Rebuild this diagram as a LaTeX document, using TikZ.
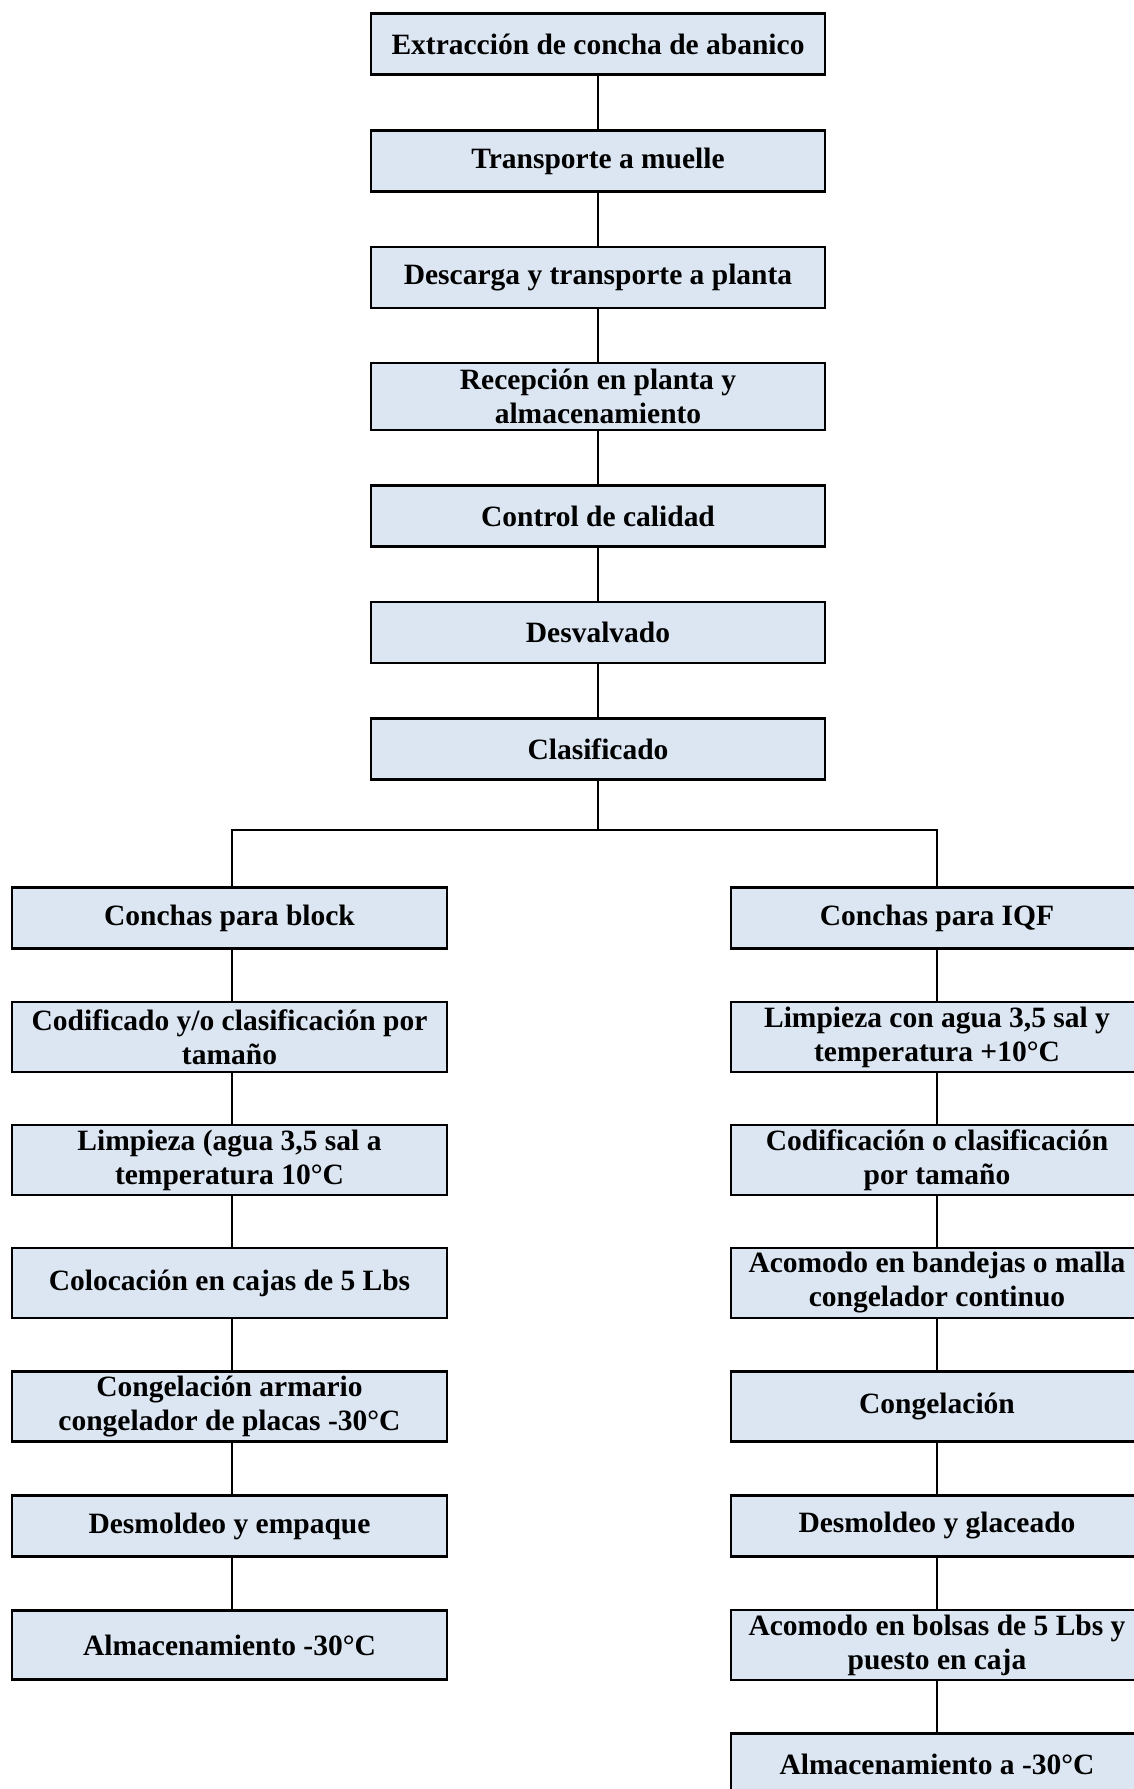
\documentclass[tikz,border=0pt]{standalone}
\usepackage{fontspec}
\setmainfont{Liberation Serif}
\definecolor{boxfill}{HTML}{DCE6F2}
\begin{document}
\begin{tikzpicture}[x=1pt,y=-1pt,
  box/.style={draw=black, line width=2.8pt, fill=boxfill, align=center,
    font=\fontsize{29.5}{34}\selectfont\bfseries, inner sep=0pt, anchor=center},
  topbox/.style={box, minimum width=454pt, minimum height=61pt},
  sidebox/.style={box, minimum width=435pt, minimum height=61pt},
  rightbox/.style={box, minimum width=412pt, minimum height=61pt},
  conn/.style={draw=black, line width=2.4pt}]
\useasboundingbox (0,0) rectangle (1133,1789);
\fill[white] (0,0) rectangle (1133,1789);
% main column
\node[topbox] (t1) at (598,44) {Extracción de concha de abanico};
\node[topbox] (t2) at (598,161) {Transporte a muelle};
\node[topbox] (t3) at (598,277.5) {Descarga y transporte a planta};
\node[topbox, minimum height=67pt] (t4) at (598,396.5) {Recepción en planta y\\almacenamiento};
\node[topbox] (t5) at (598,516) {Control de calidad};
\node[topbox] (t6) at (598,632.5) {Desvalvado};
\node[topbox] (t7) at (598,749) {Clasificado};
% left column
\node[sidebox] (l1) at (229.5,918) {Conchas para block};
\node[sidebox, minimum height=70pt] (l2) at (229.5,1037) {Codificado y/o clasificación por\\tamaño};
\node[sidebox, minimum height=70pt] (l3) at (229.5,1160) {Limpieza (agua 3,5 sal a\\temperatura 10°C};
\node[sidebox, minimum height=70pt] (l4) at (229.5,1283) {Colocación en cajas de 5 Lbs};
\node[sidebox, minimum height=70pt] (l5) at (229.5,1406.5) {Congelación armario\\congelador de placas -30°C};
\node[sidebox] (l6) at (229.5,1526) {Desmoldeo y empaque};
\node[sidebox, minimum height=69pt] (l7) at (229.5,1645) {Almacenamiento -30°C};
% right column
\node[rightbox] (r1) at (937,918) {Conchas para IQF};
\node[rightbox, minimum height=70pt] (r2) at (937,1037) {Limpieza con agua 3,5 sal y\\temperatura +10°C};
\node[rightbox, minimum height=70pt] (r3) at (937,1160) {Codificación o clasificación\\por tamaño};
\node[rightbox, minimum height=70pt] (r4) at (937,1283) {Acomodo en bandejas o malla\\congelador continuo};
\node[rightbox, minimum height=70pt] (r5) at (937,1406.5) {Congelación};
\node[rightbox] (r6) at (937,1526) {Desmoldeo y glaceado};
\node[rightbox, minimum height=70pt] (r7) at (937,1645) {Acomodo en bolsas de 5 Lbs y\\puesto en caja};
\node[rightbox] (r8) at (937,1764) {Almacenamiento a -30°C};
% connectors
\draw[conn] (t1) -- (t2);
\draw[conn] (t2) -- (t3);
\draw[conn] (t3) -- (t4);
\draw[conn] (t4) -- (t5);
\draw[conn] (t5) -- (t6);
\draw[conn] (t6) -- (t7);
\coordinate (br) at (598,830);
\draw[conn] (t7) -- (br);
\draw[conn] ([xshift=2.5pt]l1.north) |- (br) -| (r1.north);
\draw[conn] ([xshift=2.5pt]l1.south) -- ([xshift=2.5pt]l2.north);
\draw[conn] ([xshift=2.5pt]l2.south) -- ([xshift=2.5pt]l3.north);
\draw[conn] ([xshift=2.5pt]l3.south) -- ([xshift=2.5pt]l4.north);
\draw[conn] ([xshift=2.5pt]l4.south) -- ([xshift=2.5pt]l5.north);
\draw[conn] ([xshift=2.5pt]l5.south) -- ([xshift=2.5pt]l6.north);
\draw[conn] ([xshift=2.5pt]l6.south) -- ([xshift=2.5pt]l7.north);
\draw[conn] (r1) -- (r2);
\draw[conn] (r2) -- (r3);
\draw[conn] (r3) -- (r4);
\draw[conn] (r4) -- (r5);
\draw[conn] (r5) -- (r6);
\draw[conn] (r6) -- (r7);
\draw[conn] (r7) -- (r8);
\end{tikzpicture}
\end{document}
